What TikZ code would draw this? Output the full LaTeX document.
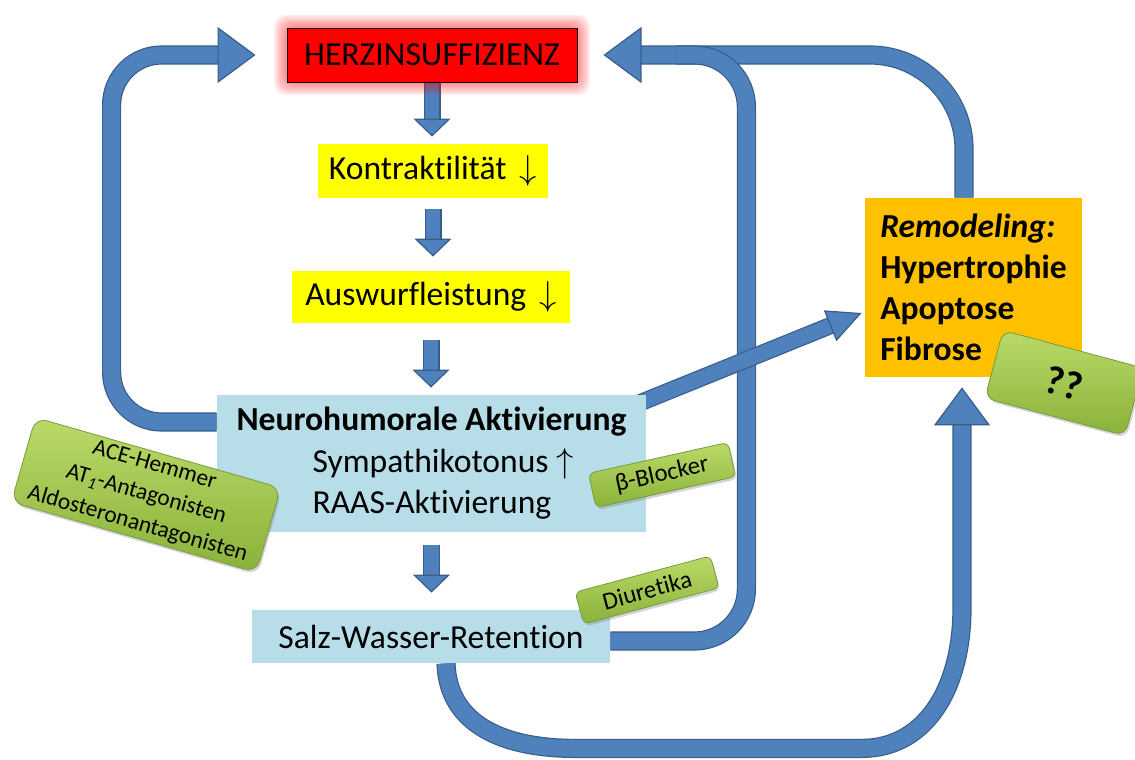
\documentclass[tikz,border=0pt]{standalone}
\usepackage{fontspec}
\setmainfont{Carlito}[Ligatures=NoCommon]
\usetikzlibrary{arrows.meta,calc,shadows}
\definecolor{BF}{RGB}{79,129,189}
\definecolor{BD}{RGB}{56,93,138}
\definecolor{lblue}{RGB}{183,222,232}
\definecolor{hred}{RGB}{255,0,0}
\definecolor{ylw}{RGB}{255,255,0}
\definecolor{orng}{RGB}{255,192,0}
\definecolor{gtop}{RGB}{186,218,104}
\definecolor{gbot}{RGB}{138,178,58}
\definecolor{gedge}{RGB}{122,154,62}
\pgfdeclarelayer{arrowlayer}
\pgfdeclarelayer{glowlayer}
\pgfsetlayers{arrowlayer,glowlayer,main}
\begin{document}
\begin{tikzpicture}[x=0.5pt,y=-0.5pt,
  box/.style={inner sep=0pt, font=\fontsize{16.8}{20.75}\selectfont},
  gbox/.style={inner sep=0pt, rounded corners=#1, top color=gtop, bottom color=gbot,
    draw=gedge, line width=0.4pt, align=center,
    drop shadow={opacity=0.35, shadow xshift=0.8pt, shadow yshift=-1.3pt},
    font=\fontsize{12.4}{15}\selectfont},
  bigarr/.style={draw=BF, line width=8.4pt, shorten >=#1,
    -{Triangle[length=19pt,width=28pt,line width=0.6pt,color=BD,fill=BF]},
    preaction={draw=BD, line width=9.6pt, -, shorten >=#1+12pt}},
  bigline/.style={draw=BF, line width=8.4pt,
    preaction={draw=BD, line width=9.6pt}},
  smallarr/.style={draw=BF, line width=7.3pt, shorten >=#1,
    -{Triangle[length=9pt,width=18.5pt,line width=0.6pt,color=BD,fill=BF]},
    preaction={draw=BD, line width=8.5pt, -, shorten >=#1+5pt}},
  diagarr/.style={draw=BF, line width=7.4pt,
    -{Triangle[length=17pt,width=16.5pt,line width=0.6pt,color=BD,fill=BF]},
    preaction={draw=BD, line width=8.6pt, -, shorten >=11pt}},
]
\useasboundingbox (0,0) rectangle (1135,760);

% main boxes
\node[box, fill=hred, draw=black, line width=0.5pt, minimum width=145pt, minimum height=27pt] (herz) at (432,55) {HERZINSUFFIZIENZ};
\node[box, fill=ylw, minimum width=115pt, minimum height=27pt] (kontra) at (433,171) {Kontraktilität\, $\downarrow$};
\node[box, fill=ylw, minimum width=139pt, minimum height=26pt] (ausw) at (431,297) {Auswurfleistung\, $\downarrow$};
\node[box, fill=lblue, minimum width=214.5pt, minimum height=68.5pt, align=left] (neuro) at (431.5,463.5)
  {\textbf{Neurohumorale Aktivierung}\\\hspace*{38pt}Sympathikotonus $\uparrow$\\\hspace*{38pt}RAAS-Aktivierung};
\node[box, fill=lblue, minimum width=179pt, minimum height=26.5pt] (salz) at (431,636.5) {Salz-Wasser-Retention};
\node[box, fill=orng, minimum width=108.5pt, minimum height=89.5pt, align=left,
  font=\bfseries\fontsize{16.8}{20.5}\selectfont] (remod) at (973.5,287.5)
  {\textit{Remodeling:}\\Hypertrophie\\Apoptose\\Fibrose};

% green drug labels
\node[gbox=6pt, rotate=-16, minimum width=127.5pt, minimum height=44pt,
  font=\fontsize{11.7}{15.3}\selectfont] (ace) at (146,495)
  {ACE-Hemmer\\AT\textsubscript{\textit{1}}-Antagonisten\\Aldosteronantagonisten};
\node[gbox=3pt, rotate=12.5, minimum width=71.5pt, minimum height=17.5pt] (beta) at (662,475) {β-Blocker};
\node[gbox=3pt, rotate=15, minimum width=70pt, minimum height=16.5pt] (diur) at (647,590) {Diuretika};
\node[gbox=5pt, rotate=-15, minimum width=72.5pt, minimum height=35pt,
  font=\bfseries\fontsize{20}{24}\selectfont] (qq) at (1064,383) {??};

% glow round the red box
\begin{pgfonlayer}{glowlayer}
  \foreach \i in {1,...,7}
    \fill[red, opacity=0.075, rounded corners=6pt]
      ($(herz.south west)+(-1.8*\i,1.8*\i)$) rectangle ($(herz.north east)+(1.8*\i,-1.8*\i)$);
\end{pgfonlayer}

% arrows
\begin{pgfonlayer}{arrowlayer}
  \draw[smallarr=3.5pt] (herz.south) -- (herz.south |- kontra.north);
  \draw[smallarr=7pt, shorten <=5.5pt] (kontra.south) -- (kontra.south |- ausw.north);
  \draw[smallarr=3.5pt, shorten <=8.5pt] (ausw.south) -- (ausw.south |- neuro.north);
  \draw[smallarr=8.5pt, shorten <=6.5pt] (neuro.south) -- (neuro.south |- salz.north);

  \draw[bigarr=15.5pt, rounded corners=25pt] ([yshift=20.75pt]neuro.west) -- ++(-105,0) |- (herz.west);
  \draw[bigarr=13pt, rounded corners=47pt] ([xshift=-4.75pt]remod.north) |- (herz.east);
  \draw[bigline, rounded corners=26pt] ([yshift=-2.25pt]salz.east) -- ++(136,0) -- ++(0,-586) -- ++(-70,0);
  \draw[bigarr=5pt] ([xshift=7.5pt]salz.south) .. controls +(2,62) and +(-70,0) .. ++(129,85)
     -- ++(287,0) .. controls +(62,0) and +(0,83) .. ++(100,-141) -- ([xshift=-5.75pt]remod.south);
  \draw[diagarr] ($(neuro.north east)+(-6,8)$) -- ($(remod.west)+(-3,25.5)$);
\end{pgfonlayer}
\end{tikzpicture}
\end{document}
